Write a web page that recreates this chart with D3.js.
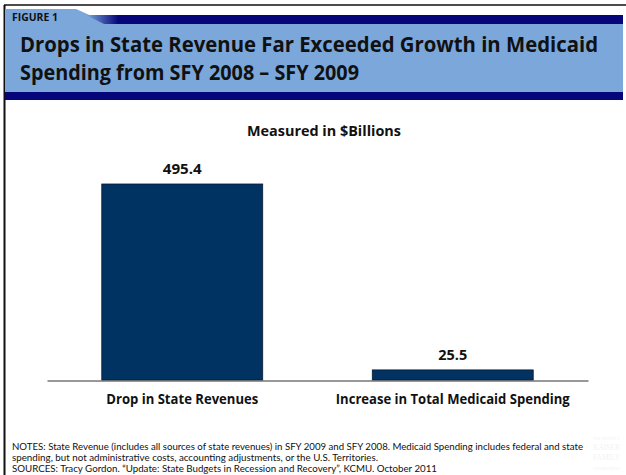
<!DOCTYPE html>
<html><head><meta charset="utf-8">
<script src="https://cdn.jsdelivr.net/npm/d3@7/dist/d3.min.js"></script>
<style>html,body{margin:0;padding:0;background:#fff;}svg{display:block;font-family:Lato,"Open Sans",sans-serif;}</style>
</head><body>
<script>
const categories = ["Drop in State Revenues", "Increase in Total Medicaid Spending"];
const values = [495.4, 25.5];
const valueLabels = ["495.4", "25.5"];
const figureLabel = "FIGURE 1";
const titleLines = ["Drops in State Revenue Far Exceeded Growth in Medicaid", "Spending from SFY 2008 \u2013 SFY 2009"];
const subtitle = "Measured in $Billions";
const notes = [
  "NOTES: State Revenue (includes all sources of state revenues) in SFY 2009 and SFY 2008. Medicaid Spending  includes federal and state",
  "spending, but not administrative costs, accounting adjustments, or the U.S. Territories.",
  "SOURCES:  Tracy Gordon. \u201cUpdate:  State Budgets in Recession and Recovery\u201d, KCMU.  October 2011"
];

const W = 626, H = 475;
const boldFont = "'Open Sans', Lato, sans-serif";
const svg = d3.select("body").append("svg").attr("width", W).attr("height", H);

// outer frame
svg.append("line").attr("x1", 4).attr("x2", W).attr("y1", 5).attr("y2", 5).attr("stroke", "#111").attr("stroke-width", 1.5);
svg.append("line").attr("x1", 4.5).attr("x2", 4.5).attr("y1", 5).attr("y2", H).attr("stroke", "#111").attr("stroke-width", 2);

// header
const lightBlue = "#7ba7da", navy = "#06067a";
svg.append("polygon").attr("points", "5,9 76,9 96,18 623,18 623,93 5,93").attr("fill", lightBlue);
const grad = svg.append("defs").append("linearGradient").attr("id", "ng").attr("x1", "0").attr("x2", "1");
grad.append("stop").attr("offset", "0").attr("stop-color", lightBlue);
grad.append("stop").attr("offset", "0.06").attr("stop-color", navy);
grad.append("stop").attr("offset", "1").attr("stop-color", navy);
svg.append("polygon").attr("points", "86,15 623,15 623,24 104,24").attr("fill", "url(#ng)");
svg.append("rect").attr("x", 5).attr("y", 92).attr("width", 618).attr("height", 8).attr("fill", navy);

svg.append("text").attr("x", 12).attr("y", 21).attr("font-size", 11).attr("font-weight", "bold").attr("fill", "#111")
  .attr("font-family", boldFont).attr("textLength", 46).attr("lengthAdjust", "spacingAndGlyphs").text(figureLabel);
svg.selectAll(".title").data(titleLines).join("text").attr("class", "title")
  .attr("x", 20).attr("y", (d, i) => 52 + i * 28)
  .attr("font-size", 21).attr("font-weight", "bold").attr("fill", "#111").attr("font-family", boldFont)
  .attr("textLength", (d, i) => i === 0 ? 578 : 339).attr("lengthAdjust", "spacingAndGlyphs")
  .text(d => d);

// chart
svg.append("text").attr("x", 324).attr("y", 136).attr("text-anchor", "middle").attr("font-size", 14).attr("font-weight", "bold")
  .attr("font-family", boldFont).attr("textLength", 154).attr("lengthAdjust", "spacingAndGlyphs").attr("fill", "#111").text(subtitle);

const x = d3.scaleBand().domain(categories).range([47, 588]).paddingInner(0.405).paddingOuter(0.2025);
const y = d3.scaleLinear().domain([0, 495.4]).range([380, 184]);

svg.selectAll(".bar").data(values).join("rect").attr("class", "bar")
  .attr("x", (d, i) => x(categories[i])).attr("width", x.bandwidth())
  .attr("y", d => y(d)).attr("height", d => y(0) - y(d))
  .attr("fill", "#003262").attr("stroke", "#0a1a30").attr("stroke-width", 0.8);

svg.selectAll(".vl").data(values).join("text").attr("class", "vl")
  .attr("x", (d, i) => x(categories[i]) + x.bandwidth() / 2).attr("y", d => y(d) - 10)
  .attr("text-anchor", "middle").attr("font-size", 13.5).attr("font-weight", "bold").attr("fill", "#111")
  .attr("font-family", boldFont).attr("textLength", (d, i) => i === 0 ? 39 : 29).attr("lengthAdjust", "spacingAndGlyphs")
  .text((d, i) => valueLabels[i]);

const axis = d3.axisBottom(x).tickSize(0).tickPadding(14);
const ag = svg.append("g").attr("transform", "translate(0,380.5)").call(axis);
ag.select(".domain").attr("stroke", "#333").attr("stroke-width", 1);
ag.selectAll("text").attr("font-size", 14).attr("font-weight", "bold").attr("fill", "#111").attr("font-family", boldFont)
  .attr("textLength", (d, i) => i === 0 ? 152 : 234).attr("lengthAdjust", "spacingAndGlyphs");

// notes
svg.selectAll(".note").data(notes).join("text").attr("class", "note")
  .attr("x", 12).attr("y", (d, i) => 450 + i * 10.8)
  .attr("font-size", 9.4).attr("fill", "#111")
  .attr("textLength", (d, i) => [571, 366, 425][i]).attr("lengthAdjust", "spacingAndGlyphs")
  .text(d => d);

// faint watermark (logo), kept clear of the notes and the edge
const wm = ["THE HENRY J.", "KAISER", "FAMILY", "FOUNDATION"];
svg.selectAll(".wm").data(wm).join("text").attr("class", "wm")
  .attr("x", 593).attr("y", (d, i) => 440 + i * 10)
  .attr("font-size", (d, i) => (i === 1 || i === 2) ? 9 : 5).attr("fill", "#f3f3f3").attr("font-family", "serif")
  .attr("textLength", 27).attr("lengthAdjust", "spacingAndGlyphs")
  .text(d => d);
</script>
</body></html>
